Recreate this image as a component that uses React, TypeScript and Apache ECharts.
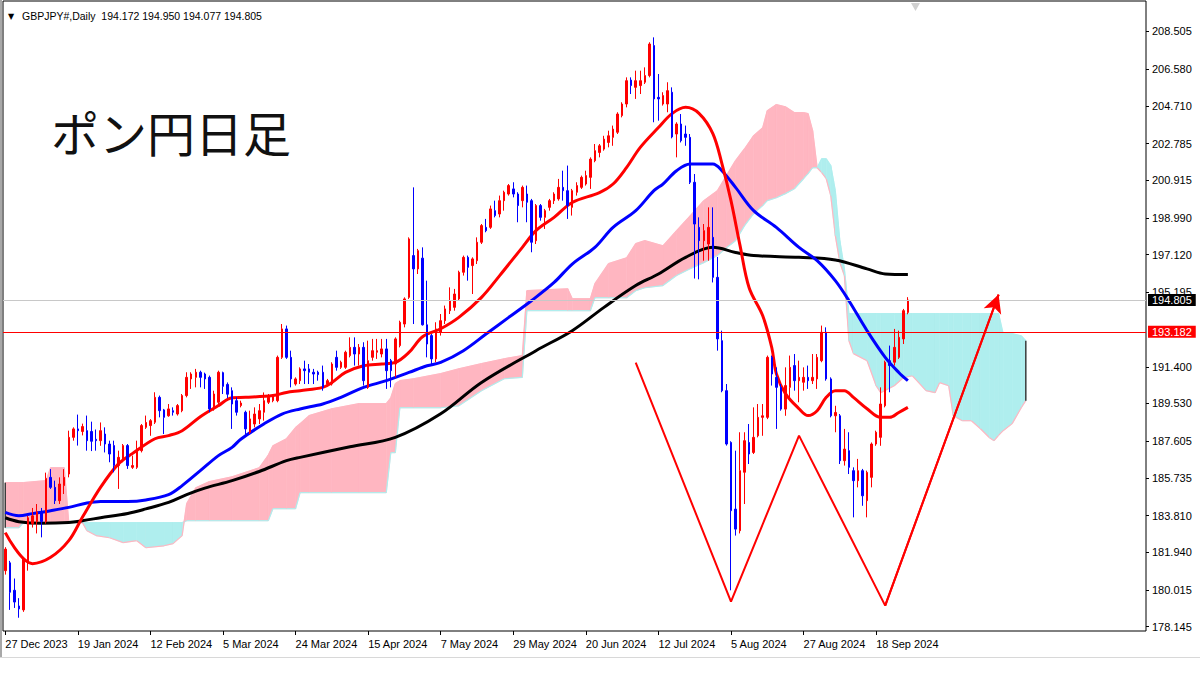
import React, { useEffect, useRef } from "react";
import * as echarts from "echarts";

// ---------- axis / label data ----------
const dateLabels = [
  "27 Dec 2023", "19 Jan 2024", "12 Feb 2024", "5 Mar 2024", "24 Mar 2024",
  "15 Apr 2024", "7 May 2024", "29 May 2024", "20 Jun 2024", "12 Jul 2024",
  "5 Aug 2024", "27 Aug 2024", "18 Sep 2024",
];
const LABEL_EVERY = 16;
const SLOT_COUNT = 252;
const yTickValues = [
  178.145, 180.015, 181.94, 183.81, 185.735, 187.605, 189.53, 191.4,
  195.195, 197.12, 198.99, 200.915, 202.785, 204.71, 206.58, 208.505,
];
const Y_MIN = 177.924;
const Y_MAX = 210.054;
const horizontalLevel = 193.182;
const symbolName = "GBPJPY#,Daily";
const titleText = "ポン円日足";

// ---------- candles ----------
const opens = [
  181.0, 181.4, 180.0, 179.2, 179.0, 181.4, 183.4, 183.5, 184.0, 183.5,
  185.76, 185.25, 184.57, 185.34, 185.93, 187.8, 188.23, 188.1, 188.14, 188.1,
  187.7, 187.63, 187.97, 187.46, 187.38, 186.36, 186.61, 187.38, 186.27, 186.27,
  187.12, 188.31, 188.4, 188.57, 189.84, 189.2, 188.9, 189.16, 188.99, 189.16,
  189.93, 190.78, 190.86, 191.12, 191.03, 190.86, 189.25, 189.59, 191.1, 190.5,
  190.18, 189.67, 189.42, 189.08, 188.06, 188.48, 188.74, 189.08, 189.59, 189.67,
  189.67, 191.88, 193.33, 191.88, 190.52, 190.69, 191.29, 191.29, 191.12, 191.12,
  191.12, 190.52, 190.52, 191.88, 191.37, 191.37, 191.97, 192.39, 192.05, 192.39,
  190.35, 191.88, 192.14, 192.05, 192.31, 191.71, 191.54, 192.48, 193.58, 194.94,
  197.07, 196.39, 196.94, 193.54, 192.99, 191.8, 193.15, 193.75, 194.26, 194.43,
  194.86, 196.22, 196.98, 196.56, 196.81, 197.75, 198.51, 198.51, 199.36, 199.19,
  199.87, 200.21, 200.47, 200.21, 199.87, 200.21, 199.87, 197.83, 199.62, 199.02,
  199.53, 199.87, 199.96, 200.55, 200.38, 199.53, 200.3, 200.55, 200.72, 201.06,
  201.91, 202.33, 202.5, 202.84, 203.1, 203.36, 204.21, 204.8, 206.02, 205.65,
  205.74, 205.91, 206.25, 207.78, 205.14, 204.8, 204.8, 205.4, 203.27, 203.78,
  203.27, 203.1, 200.81, 198.51, 197.83, 197.66, 198.0, 195.96, 192.73, 190.18,
  187.54, 184.14, 183.04, 186.02, 187.54, 187.03, 187.88, 188.82, 188.82, 191.88,
  190.86, 190.35, 189.24, 190.35, 191.46, 190.69, 190.61, 190.86, 190.69, 190.78,
  191.71, 193.16, 190.78, 188.9, 188.9, 186.61, 187.12, 186.1, 185.59, 186.1,
  184.57, 185.76, 187.46, 187.8, 189.41, 191.71, 191.63, 191.88, 192.82, 194.172,
];
const highs = [
  182.2, 181.5, 180.6, 179.6, 181.7, 183.8, 184.2, 184.4, 184.2, 186.0,
  186.18, 185.59, 185.76, 186.18, 188.14, 188.31, 188.96, 188.5, 188.91, 188.6,
  188.2, 188.56, 188.31, 187.63, 187.63, 187.12, 187.46, 187.46, 186.87, 187.63,
  188.48, 188.91, 188.73, 190.1, 189.93, 189.25, 189.5, 189.33, 189.5, 190.01,
  191.12, 191.12, 191.29, 191.2, 191.1, 190.95, 190.18, 191.2, 191.15, 190.6,
  190.35, 189.84, 189.67, 189.16, 189.16, 189.33, 189.5, 190.09, 190.01, 190.01,
  191.97, 193.58, 193.5, 192.22, 190.86, 191.37, 191.71, 191.54, 191.29, 191.2,
  191.46, 190.78, 191.63, 192.22, 191.71, 192.22, 192.9, 192.9, 192.56, 192.65,
  192.73, 192.82, 192.82, 192.82, 192.82, 191.8, 192.9, 193.75, 194.94, 198.0,
  200.55, 197.41, 197.49, 195.79, 193.07, 193.67, 194.09, 194.52, 195.45, 195.37,
  196.3, 197.07, 197.07, 196.98, 198.0, 198.68, 198.94, 199.62, 199.87, 200.13,
  200.38, 200.72, 200.81, 200.3, 200.64, 200.64, 199.96, 199.7, 199.7, 199.45,
  199.96, 200.3, 200.98, 201.4, 201.66, 200.47, 200.81, 201.15, 201.4, 202.08,
  202.76, 202.76, 203.18, 203.44, 203.7, 204.38, 204.89, 206.16, 206.16, 206.5,
  206.5, 206.67, 207.95, 208.2, 206.33, 205.4, 205.91, 205.65, 203.87, 204.29,
  203.7, 203.27, 201.23, 199.02, 198.68, 199.53, 199.53, 197.0, 193.24, 190.52,
  187.6, 187.12, 188.06, 188.06, 188.48, 189.33, 189.5, 189.5, 191.97, 191.97,
  191.37, 190.52, 191.37, 191.97, 192.05, 191.71, 191.37, 191.46, 192.05, 192.05,
  193.5, 193.41, 190.86, 189.41, 188.99, 188.23, 188.06, 186.27, 186.7, 186.19,
  186.1, 187.54, 188.14, 190.35, 191.71, 192.48, 193.33, 193.24, 194.35, 194.95,
];
const lows = [
  180.8, 179.0, 179.1, 178.6, 178.9, 181.0, 183.2, 182.9, 182.7, 183.4,
  185.17, 184.4, 184.4, 184.91, 185.76, 187.63, 187.38, 187.9, 187.12, 187.1,
  187.12, 187.37, 187.03, 186.53, 186.02, 185.17, 186.53, 186.19, 186.19, 186.19,
  187.03, 188.23, 187.88, 188.48, 188.82, 187.97, 188.85, 188.91, 188.91, 189.08,
  189.84, 190.27, 190.35, 190.35, 190.27, 189.08, 189.16, 189.5, 190.01, 189.8,
  188.23, 188.91, 189.33, 187.97, 187.97, 188.31, 188.48, 188.65, 189.5, 189.59,
  189.59, 191.8, 191.8, 190.35, 190.44, 190.52, 190.52, 190.52, 190.52, 190.69,
  190.18, 190.44, 190.44, 191.2, 191.29, 191.29, 191.88, 191.46, 191.46, 190.44,
  190.27, 191.71, 191.8, 191.88, 190.27, 190.35, 190.86, 192.39, 193.41, 194.86,
  193.58, 196.13, 193.5, 191.88, 191.54, 191.63, 192.99, 193.58, 194.09, 194.26,
  194.77, 196.05, 195.79, 195.11, 196.64, 197.66, 198.26, 198.43, 199.02, 199.02,
  199.36, 200.13, 200.04, 198.77, 199.53, 198.77, 197.24, 197.66, 198.85, 198.43,
  199.36, 199.7, 199.87, 199.87, 198.94, 199.11, 200.13, 200.47, 200.64, 200.47,
  201.83, 202.08, 202.42, 202.59, 202.67, 203.27, 204.12, 204.63, 205.31, 205.06,
  205.31, 205.82, 206.16, 203.87, 203.95, 204.72, 204.38, 203.05, 202.08, 202.84,
  202.67, 200.72, 195.9, 195.86, 196.81, 196.81, 195.7, 192.22, 190.1, 187.38,
  180.0, 182.79, 182.9, 184.4, 186.44, 186.95, 187.8, 187.88, 188.73, 190.44,
  188.23, 189.16, 188.9, 189.67, 190.18, 189.59, 190.18, 190.27, 190.52, 190.27,
  191.63, 190.69, 188.82, 188.06, 186.44, 186.36, 185.93, 183.72, 185.25, 184.31,
  183.72, 185.25, 187.37, 187.37, 189.33, 190.1, 191.46, 191.8, 192.56, 194.077,
];
const closes = [
  182.1, 179.9, 179.4, 179.05, 181.6, 183.7, 183.8, 184.0, 183.5, 185.7,
  185.25, 184.57, 185.42, 185.76, 187.8, 188.23, 188.14, 188.35, 187.63, 187.6,
  187.63, 188.14, 187.46, 186.95, 186.36, 186.78, 187.38, 186.36, 186.36, 187.21,
  188.4, 188.56, 188.65, 189.84, 189.16, 188.82, 189.25, 189.08, 189.42, 189.93,
  190.86, 191.03, 191.12, 190.86, 190.78, 189.25, 190.01, 191.12, 190.4, 190.0,
  189.5, 189.08, 189.55, 188.23, 188.74, 188.99, 189.16, 189.67, 189.84, 189.93,
  191.88, 193.33, 191.88, 190.78, 190.78, 191.29, 191.2, 191.12, 191.03, 191.0,
  190.35, 190.69, 191.54, 191.37, 191.63, 192.14, 192.39, 192.05, 192.39, 190.69,
  191.71, 192.22, 192.22, 192.31, 191.2, 191.2, 192.82, 193.67, 194.86, 197.92,
  196.39, 197.32, 193.54, 192.56, 191.8, 193.33, 193.75, 194.35, 194.77, 195.11,
  196.22, 196.98, 196.47, 196.9, 197.75, 198.6, 198.34, 199.45, 199.11, 199.87,
  200.3, 200.64, 200.21, 199.62, 200.55, 199.79, 197.75, 199.62, 199.02, 199.36,
  199.87, 200.21, 200.55, 200.38, 199.62, 200.38, 200.64, 201.06, 201.15, 201.99,
  202.42, 202.67, 203.01, 203.18, 203.52, 204.29, 204.8, 205.99, 205.74, 205.99,
  205.99, 206.25, 207.86, 205.06, 205.06, 205.23, 205.48, 203.12, 203.78, 202.93,
  203.1, 200.81, 198.68, 197.83, 198.34, 198.51, 195.96, 192.82, 190.18, 187.46,
  184.06, 183.12, 186.1, 187.63, 186.95, 187.8, 188.82, 188.9, 191.88, 191.03,
  190.35, 189.24, 190.44, 191.37, 190.69, 190.86, 190.86, 190.69, 190.86, 191.88,
  193.16, 190.78, 188.9, 189.07, 186.61, 187.2, 186.27, 185.59, 186.1, 184.82,
  186.01, 187.46, 188.06, 189.5, 191.63, 191.46, 192.39, 192.9, 194.26, 194.805,
];

// ---------- moving averages: [bar index, price] read at sample bars ----------
const redMA = [
  [0, 182.94], [6, 181.36], [10, 181.68], [14, 182.53], [17, 183.72], [21, 185.25],
  [25, 186.46], [28, 186.97], [33, 187.73], [36, 187.89], [39, 188.14], [43, 188.85],
  [47, 189.42], [50, 189.82], [53, 189.84], [59, 189.93], [62, 190.09], [65, 190.18],
  [70, 190.35], [72, 190.6], [75, 191.11], [79, 191.45], [83, 191.54], [86, 191.62],
  [89, 192.13], [92, 192.93], [96, 193.34], [100, 193.92], [105, 194.94], [109, 196.05],
  [114, 197.49], [117, 198.34], [121, 199.02], [125, 199.78], [131, 200.28], [134, 200.72],
  [137, 201.57], [140, 202.59], [144, 203.6], [147, 204.31], [150, 204.63], [153, 204.31],
  [156, 203.29], [158, 201.76], [160, 199.87], [162, 197.58], [164, 195.43], [167, 194.0],
  [169, 192.37], [170, 191.05], [172, 190.03], [175, 189.26], [177, 188.91], [179, 189.16],
  [181, 189.84], [183, 190.18], [185, 190.18], [187, 189.84], [190, 189.26], [193, 188.82],
  [195, 188.82], [197, 189.07], [199, 189.33],
];
const blueMA = [
  [0, 183.97], [3, 183.8], [6, 183.91], [10, 184.06], [14, 184.23], [18, 184.45],
  [21, 184.53], [27, 184.53], [31, 184.61], [36, 184.88], [39, 185.34], [43, 186.1],
  [47, 186.87], [50, 187.29], [52, 187.72], [57, 188.48], [61, 188.99], [65, 189.25],
  [70, 189.5], [74, 189.84], [79, 190.35], [84, 190.69], [89, 191.11], [93, 191.45],
  [96, 191.62], [101, 192.22], [106, 193.07], [111, 193.92], [116, 194.77], [121, 195.7],
  [125, 196.64], [130, 197.49], [134, 198.51], [139, 199.36], [143, 200.38], [145, 200.72],
  [148, 201.4], [151, 201.74], [156, 201.74], [158, 201.4], [161, 200.55], [165, 199.36],
  [170, 198.51], [175, 197.49], [179, 196.81], [183, 195.79], [186, 194.77], [190, 193.24],
  [194, 191.88], [197, 191.11], [199, 190.69],
];
const blackMA = [
  [0, 183.7], [3, 183.5], [8, 183.42], [14, 183.46], [17, 183.55], [21, 183.7],
  [27, 183.92], [31, 184.15], [36, 184.48], [40, 184.88], [44, 185.21], [50, 185.59],
  [56, 186.06], [62, 186.61], [65, 186.78], [76, 187.32], [86, 187.8], [96, 189.0],
  [105, 190.6], [117, 192.22], [125, 193.24], [132, 194.43], [139, 195.54], [144, 196.13],
  [150, 196.98], [156, 197.49], [161, 197.23], [165, 197.07], [175, 196.98], [183, 196.85],
  [190, 196.39], [194, 196.13], [199, 196.1],
];
// bar ranges where the long MA runs through the cloud and shows dark green
const blackInCloud = [[0, 14], [86, 160]];

// ---------- Ichimoku cloud: [bar index, senkou A, senkou B] ----------
const cloud = [
  [0, 185.49, 183.19], [3, 185.49, 183.19], [4, 185.49, 183.45], [9, 185.59, 183.45],
  [10, 186.25, 183.45], [13, 186.25, 183.45], [14, 183.45, 183.45], [17, 183.45, 183.45],
  [18, 183.04, 183.45], [20, 182.79, 183.45], [23, 182.68, 183.45], [26, 182.43, 183.45],
  [29, 182.53, 183.45], [31, 182.17, 183.45], [35, 182.27, 183.45], [37, 182.38, 183.45],
  [39, 182.79, 183.45], [40, 184.42, 183.55], [42, 185.23, 183.55], [45, 185.54, 183.55],
  [50, 185.79, 183.55], [56, 186.25, 183.55], [58, 186.9, 183.55], [59, 187.37, 184.16],
  [62, 187.73, 184.16], [64, 188.3, 184.16], [65, 188.5, 184.98], [67, 188.91, 184.98],
  [72, 189.26, 184.98], [78, 189.52, 184.98], [84, 189.52, 184.98], [85, 189.82, 187.02],
  [86, 190.54, 187.02], [87, 190.69, 189.31], [90, 190.79, 189.31], [96, 191.05, 189.31],
  [100, 191.3, 189.41], [105, 191.56, 190.18], [110, 191.81, 190.79], [114, 191.97, 190.86],
  [115, 195.28, 194.26], [124, 195.38, 194.26], [125, 194.87, 194.26], [129, 194.87, 194.26],
  [130, 195.64, 194.92], [133, 196.66, 194.92], [137, 196.96, 194.92], [139, 197.68, 195.28],
  [141, 197.83, 195.43], [145, 197.57, 195.54], [148, 198.34, 196.05], [151, 199.1, 196.4],
  [154, 199.87, 196.71], [157, 200.38, 197.07], [159, 201.15, 197.47], [161, 201.91, 197.83],
  [163, 202.52, 198.6], [165, 203.19, 199.21], [167, 203.59, 199.62], [168, 204.46, 199.87],
  [170, 204.77, 200.02], [172, 204.66, 200.23], [174, 204.36, 200.48], [176, 204.36, 200.99],
  [177, 204.31, 201.25], [178, 203.44, 201.55], [179, 201.55, 201.55], [180, 201.3, 202.01],
  [181, 200.99, 202.01], [182, 200.12, 201.66], [183, 198.09, 200.38], [184, 196.71, 197.83],
  [185, 196.05, 196.4], [186, 192.73, 194.11], [187, 192.07, 194.11], [190, 191.71, 194.11],
  [192, 190.43, 194.11], [193, 190.08, 194.11], [196, 190.43, 194.11], [198, 190.84, 194.11],
  [200, 190.94, 194.11], [203, 190.18, 194.11], [205, 190.08, 194.11], [206, 190.59, 194.11],
  [208, 190.43, 194.11], [209, 188.9, 194.11], [211, 188.65, 194.11], [213, 188.65, 194.11],
  [215, 188.24, 194.11], [217, 187.78, 194.11], [218, 187.63, 194.11], [219, 187.9, 194.11],
  [220, 188.14, 193.09], [222, 188.5, 193.09], [224, 189.31, 192.98], [225, 189.67, 192.73],
];

// ---------- hand-drawn W pattern: [bar index, price] ----------
const wPattern = [
  [139, 191.61], [160, 179.42], [175, 187.89], [194, 179.22], [219, 195.08],
];

const PINK = "#FFB6C1";
const CYAN = "#AFEEEE";
const DARK_GREEN = "#1E4A3B";
const FONT = '"Liberation Sans", Arial, sans-serif';

export default function App() {
  const ref = useRef<HTMLDivElement>(null);

  useEffect(() => {
    if (!ref.current) return;
    const chart = echarts.init(ref.current, undefined, { renderer: "svg" });
    const last = closes.length - 1;
    const categories = Array.from({ length: SLOT_COUNT }, (_, i) => String(i));
    const isLabelIdx = (i: number) => i % LABEL_EVERY === 0 && i / LABEL_EVERY < dateLabels.length;

    const poly = (pts: number[][], fill: string) => ({
      type: "polygon",
      shape: { points: pts },
      style: { fill, stroke: fill, lineWidth: 0.6 },
    });

    const cloudSeries = {
      type: "custom",
      z: 1,
      silent: true,
      clip: true,
      data: cloud.map((c) => [c[0], c[1], c[2]]),
      encode: { x: 0, y: [1, 2] },
      renderItem: (params: any, api: any) => {
        const k = params.dataIndex;
        const cur = cloud[k];
        const next = cloud[k + 1];
        const children: any[] = [];
        const a0 = api.coord([cur[0], cur[1]]);
        const b0 = api.coord([cur[0], cur[2]]);
        if (next) {
          const a1 = api.coord([next[0], next[1]]);
          const b1 = api.coord([next[0], next[2]]);
          const d0 = cur[1] - cur[2];
          const d1 = next[1] - next[2];
          const col = (d: number) => (d >= 0 ? PINK : CYAN);
          if (d0 * d1 < 0) {
            const t = d0 / (d0 - d1);
            const c = [a0[0] + (a1[0] - a0[0]) * t, a0[1] + (a1[1] - a0[1]) * t];
            children.push(poly([a0, c, b0], col(d0)));
            children.push(poly([c, a1, b1], col(d1)));
          } else {
            const d = Math.abs(d0) >= Math.abs(d1) ? d0 : d1;
            children.push(poly([a0, a1, b1, b0], col(d)));
          }
          children.push({
            type: "line",
            shape: { x1: b0[0], y1: b0[1], x2: b1[0], y2: b1[1] },
            style: { stroke: CYAN, lineWidth: 1.2 },
          });
          children.push({
            type: "line",
            shape: { x1: a0[0], y1: a0[1], x2: a1[0], y2: a1[1] },
            style: { stroke: PINK, lineWidth: 1.2 },
          });
        }
        if (k === 0 || k === cloud.length - 1) {
          children.push({
            type: "line",
            shape: { x1: a0[0], y1: a0[1], x2: b0[0], y2: b0[1] },
            style: { stroke: "#3c3c3c", lineWidth: 1.5 },
          });
        }
        return { type: "group", children };
      },
    };

    const maSeries = (data: number[][], color: string) => ({
      type: "line",
      data,
      smooth: 0.35,
      showSymbol: false,
      symbol: "none",
      silent: true,
      z: 2,
      lineStyle: { color, width: 3 },
    });

    const priceLabel = (text: string, bg: string) => ({
      show: true,
      position: "end",
      distance: 2,
      fontSize: 11,
      fontFamily: FONT,
      color: "#fff",
      backgroundColor: bg,
      padding: [1, 4, 0, 4],
      lineHeight: 11,
      formatter: text,
    });

    const greenPieces: any[] = [];
    let prev = 0;
    blackInCloud.forEach(([s, e]) => {
      if (s > prev) greenPieces.push({ gte: prev, lt: s, color: "#000000" });
      greenPieces.push({ gte: s, lt: e, color: DARK_GREEN });
      prev = e;
    });
    greenPieces.push({ gte: prev, color: "#000000" });

    const option: any = {
      animation: false,
      backgroundColor: "#ffffff",
      grid: {
        left: 3,
        right: 54,
        top: 1,
        bottom: 44,
        show: true,
        borderColor: "#000000",
        borderWidth: 1,
        backgroundColor: "transparent",
        containLabel: false,
        outerBoundsMode: "none",
      },
      visualMap: [
        {
          show: false,
          type: "piecewise",
          seriesIndex: 1,
          dimension: 0,
          pieces: greenPieces,
        },
      ],
      xAxis: {
        type: "category",
        data: categories,
        boundaryGap: true,
        axisLine: { show: false },
        axisTick: {
          show: true,
          alignWithLabel: true,
          interval: (i: number) => isLabelIdx(i),
          length: 4,
          lineStyle: { color: "#000" },
        },
        axisLabel: {
          show: true,
          interval: (i: number) => isLabelIdx(i),
          formatter: (_v: string, i: number) => (isLabelIdx(i) ? dateLabels[i / LABEL_EVERY] : ""),
          align: "left",
          margin: 7,
          color: "#000",
          fontSize: 11,
          fontFamily: FONT,
        },
        splitLine: { show: false },
      },
      yAxis: {
        type: "value",
        position: "right",
        min: Y_MIN,
        max: Y_MAX,
        scale: true,
        axisLine: { show: false },
        axisTick: {
          show: true,
          length: 3,
          customValues: yTickValues,
          lineStyle: { color: "#000" },
        },
        axisLabel: {
          show: true,
          customValues: yTickValues,
          formatter: (v: number) => v.toFixed(3),
          margin: 6,
          color: "#000",
          fontSize: 11,
          fontFamily: FONT,
        },
        splitLine: { show: false },
      },
      graphic: [
        {
          type: "rect",
          shape: { x: 0, y: 0, width: 2, height: 658 },
          style: { fill: "#A8A8A8" },
          z: 10,
          silent: true,
        },
        {
          type: "rect",
          shape: { x: 0, y: 657, width: 1200, height: 1 },
          style: { fill: "#D8D8D8" },
          z: 10,
          silent: true,
        },
        {
          type: "polygon",
          shape: { points: [[911, 3], [920, 3], [915.5, 11]] },
          style: { fill: "#D0D0D0" },
          z: 10,
          silent: true,
        },
        {
          type: "text",
          x: 8,
          y: 16,
          style: { text: "▼", font: '8px "DejaVu Sans"', fill: "#000", verticalAlign: "middle" },
          z: 10,
        },
        {
          type: "text",
          x: 22,
          y: 16,
          style: {
            text: `${symbolName}  ${opens[last].toFixed(3)} ${highs[last].toFixed(3)} ${lows[last].toFixed(3)} ${closes[last].toFixed(3)}`,
            font: `10.5px ${FONT}`,
            fill: "#000",
            verticalAlign: "middle",
          },
          z: 10,
        },
        {
          type: "text",
          x: 51,
          y: 131,
          style: {
            text: titleText,
            font: '48px "Noto Sans CJK JP"',
            fill: "#111",
            verticalAlign: "middle",
          },
          z: 10,
        },
      ],
      series: [
        cloudSeries,
        maSeries(blackMA, "#000000"),
        maSeries(blueMA, "#0000FF"),
        maSeries(redMA, "#FF0000"),
        {
          type: "candlestick",
          z: 3,
          silent: true,
          barWidth: 2,
          data: opens.map((o, i) => [o, closes[i], lows[i], highs[i]]),
          itemStyle: {
            color: "#FF0000",
            color0: "#0000FF",
            borderColor: "#FF0000",
            borderColor0: "#0000FF",
            borderColorDoji: "#FF0000",
            borderWidth: 1,
          },
          markLine: {
            silent: true,
            symbol: "none",
            animation: false,
            precision: 3,
            lineStyle: { color: "#C8C8C8", width: 1, type: "solid" },
            label: priceLabel(closes[last].toFixed(3), "#000000"),
            data: [{ yAxis: closes[last] }],
          },
        },
        {
          type: "line",
          z: 4,
          silent: true,
          data: [],
          markLine: {
            silent: true,
            symbol: "none",
            animation: false,
            precision: 3,
            lineStyle: { color: "#FF0000", width: 1, type: "solid", opacity: 1 },
            label: priceLabel(horizontalLevel.toFixed(3), "#FF0000"),
            data: [{ yAxis: horizontalLevel }],
          },
        },
        {
          type: "line",
          z: 5,
          silent: true,
          data: wPattern,
          showSymbol: false,
          symbol: "none",
          lineStyle: { color: "#FF0000", width: 2 },
          markLine: {
            silent: true,
            animation: false,
            symbol: ["none", "arrow"],
            symbolSize: [14, 18],
            label: { show: false },
            lineStyle: { color: "#FF0000", width: 2, type: "solid" },
            data: [[{ coord: wPattern[3] }, { coord: wPattern[4] }]],
          },
        },
      ],
    };

    chart.setOption(option);
    return () => chart.dispose();
  }, []);

  return (
    <div
      ref={ref}
      style={{ position: "fixed", left: 0, top: 0, width: 1200, height: 675, background: "#fff" }}
    />
  );
}
